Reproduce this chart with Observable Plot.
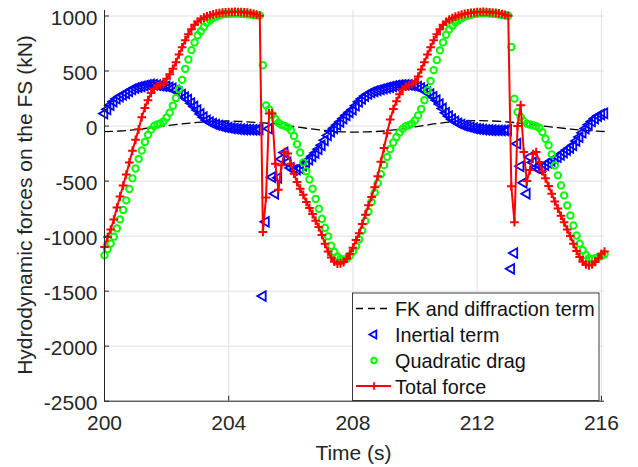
<!DOCTYPE html>
<html><head><meta charset="utf-8">
<script src="https://cdn.jsdelivr.net/npm/d3@7"></script>
<script src="https://cdn.jsdelivr.net/npm/@observablehq/plot@0.6"></script>
<style>body{margin:0;background:#fff;} svg{display:block}</style>
</head><body><div id="chart"></div>
<script>
const time = [
200.0,200.1,200.2,200.3,200.4,200.5,200.6,200.7,200.8,200.9,
201.0,201.1,201.2,201.3,201.4,201.5,201.6,201.7,201.8,201.9,
202.0,202.1,202.2,202.3,202.4,202.5,202.6,202.7,202.8,202.9,
203.0,203.1,203.2,203.3,203.4,203.5,203.6,203.7,203.8,203.9,
204.0,204.1,204.2,204.3,204.4,204.5,204.6,204.7,204.8,204.9,
205.0,205.1,205.2,205.3,205.4,205.5,205.6,205.7,205.8,205.9,
206.0,206.1,206.2,206.3,206.4,206.5,206.6,206.7,206.8,206.9,
207.0,207.1,207.2,207.3,207.4,207.5,207.6,207.7,207.8,207.9,
208.0,208.1,208.2,208.3,208.4,208.5,208.6,208.7,208.8,208.9,
209.0,209.1,209.2,209.3,209.4,209.5,209.6,209.7,209.8,209.9,
210.0,210.1,210.2,210.3,210.4,210.5,210.6,210.7,210.8,210.9,
211.0,211.1,211.2,211.3,211.4,211.5,211.6,211.7,211.8,211.9,
212.0,212.1,212.2,212.3,212.4,212.5,212.6,212.7,212.8,212.9,
213.0,213.1,213.2,213.3,213.4,213.5,213.6,213.7,213.8,213.9,
214.0,214.1,214.2,214.3,214.4,214.5,214.6,214.7,214.8,214.9,
215.0,215.1,215.2,215.3,215.4,215.5,215.6,215.7,215.8,215.9,
216.0,216.1];

const inertial = [
113,152,190,222,249,268,283,298,316,333,
345,353,360,367,374,378,376,372,368,364,
360,352,343,325,305,285,262,240,208,178,
145,110,80,52,35,22,12,4,-4,-10,
-15,-20,-24,-27,-29,-31,-32,-33,-34,-34,
-30,-1545,-870,-24,-464,-615,-470,-300,-240,-330,
-380,-400,-395,-385,-360,-330,-305,-275,-245,-210,
-175,-130,-85,-50,-20,10,38,68,97,125,
150,185,220,248,272,292,306,316,325,333,
340,348,355,362,368,372,374,375,374,370,
365,358,345,328,308,290,265,235,200,160,
120,90,62,42,25,13,3,-5,-12,-20,
-25,-28,-32,-34,-36,-38,-39,-40,-40,-40,
-38,-1297,-1154,-160,-366,-515,-615,-282,-330,-380,
-390,-375,-355,-335,-315,-298,-282,-262,-240,-218,
-198,-175,-135,-100,-60,-22,12,42,68,90,
105,115];

const drag = [
-1175,-1118,-1068,-1005,-930,-848,-762,-675,-572,-475,
-385,-298,-222,-145,-80,-32,0,14,24,42,
78,122,185,255,335,420,520,605,690,760,
825,862,900,938,962,982,996,1006,1013,1018,
1021,1023,1023,1022,1020,1018,1015,1013,1010,1007,
1004,552,188,150,100,65,30,12,2,-12,
-38,-90,-165,-240,-330,-410,-485,-570,-662,-752,
-842,-925,-1002,-1088,-1145,-1185,-1208,-1215,-1206,-1178,
-1140,-1092,-1030,-950,-862,-778,-690,-605,-520,-438,
-355,-280,-210,-150,-100,-58,-25,-2,8,22,
52,97,155,234,325,410,508,600,688,760,
830,878,912,940,962,980,995,1005,1012,1018,
1022,1024,1025,1025,1023,1020,1017,1013,1010,1007,
1003,718,249,127,82,45,22,14,6,-2,
-15,-55,-115,-175,-257,-357,-448,-539,-630,-721,
-812,-903,-994,-1068,-1128,-1172,-1200,-1210,-1200,-1190,
-1182,-1165];

const total = [
-1100,-1009,-940,-850,-740,-640,-540,-440,-330,-225,
-125,-30,80,165,235,300,340,362,375,385,
430,470,520,580,650,715,780,835,880,920,
950,970,985,997,1007,1015,1021,1026,1030,1033,
1035,1036,1037,1036,1035,1033,1030,1026,1020,1012,
1003,-963,-650,115,115,-342,-578,-357,-236,-250,
-342,-433,-509,-569,-625,-690,-745,-800,-860,-918,
-990,-1070,-1140,-1195,-1232,-1250,-1248,-1236,-1205,-1160,
-1105,-1035,-975,-890,-805,-720,-645,-555,-455,-325,
-200,-65,60,155,225,290,335,358,370,382,
400,450,515,580,650,715,780,835,880,920,
948,968,982,995,1005,1013,1020,1025,1029,1032,
1035,1036,1037,1036,1034,1032,1028,1024,1018,1010,
1002,-548,-873,0,190,-236,-500,-400,-255,-236,
-327,-410,-475,-545,-615,-685,-750,-815,-875,-940,
-1000,-1070,-1135,-1190,-1232,-1258,-1266,-1258,-1235,-1200,
-1160,-1140];

const fkTime = [200.0,200.5,201.0,201.5,202.0,202.5,203.0,203.5,204.0,204.5,205.0,205.5,206.0,206.5,207.0,207.5,
208.0,208.5,209.0,209.5,210.0,210.5,211.0,211.5,212.0,212.5,213.0,213.5,214.0,214.5,215.0,215.5,216.0,216.1];
const fkForce = [-50,-45,-33,-15,4,20,33,42,46,40,30,20,0,-20,-38,-50,
-55,-52,-45,-27,-8,15,33,45,50,46,37,22,5,-12,-27,-40,-48,-50];

const xTicks = [200,204,208,212,216];
const yTicks = [-2500,-2000,-1500,-1000,-500,0,500,1000];
const legendLabels = ["FK and diffraction term","Inertial term","Quadratic drag","Total force"];
const xLabel = "Time (s)";
const yLabel = "Hydrodynamic forces on the FS (kN)";

const rows = time.map((t,i)=>({t, inertial: inertial[i], drag: drag[i], total: total[i]}));
const fk = fkTime.map((t,i)=>({t, v: fkForce[i]}));

const axisColor = "#262626";
const gridColor = "#e0e0e0";
const font = "'Liberation Sans', Arial, Helvetica, sans-serif";
const blue = "#0000ff", green = "#00ff00", red = "#ff0000";
const rTri = 3.6, rCirc = 3.2, rPlus = 2.9;

const chart = Plot.plot({
  width: 638, height: 467,
  marginLeft: 104, marginRight: 34, marginTop: 10, marginBottom: 66.3,
  style: {fontFamily: font, fontSize: "21px", color: axisColor, background: "#fff", overflow: "visible"},
  x: {domain: [200, 216.1]},
  y: {domain: [-2500, 1050]},
  marks: [
    Plot.gridX(xTicks, {stroke: gridColor, strokeOpacity: 1}),
    Plot.gridY(yTicks, {stroke: gridColor, strokeOpacity: 1}),
    Plot.line(fk, {x: "t", y: "v", stroke: "#000", strokeWidth: 1.3, strokeDasharray: "8,5", curve: "natural"}),
    Plot.dot(rows, {x: "t", y: "inertial", symbol: "triangle", rotate: -90, r: rTri, stroke: blue, strokeWidth: 1.8, fill: "none"}),
    Plot.dot(rows, {x: "t", y: "drag", symbol: "circle", r: rCirc, stroke: green, strokeWidth: 2, fill: "none"}),
    Plot.line(rows, {x: "t", y: "total", stroke: red, strokeWidth: 2}),
    Plot.dot(rows, {x: "t", y: "total", symbol: "plus", r: rPlus, stroke: red, strokeWidth: 2}),
    Plot.ruleX([200], {stroke: axisColor, strokeWidth: 1}),
    Plot.ruleY([-2500], {stroke: axisColor, strokeWidth: 1}),
    Plot.ruleX(xTicks, {x: d => d, y1: -2500, y2: -2455, stroke: axisColor}),
    Plot.ruleY(yTicks, {y: d => d, x1: 200, x2: 200.16, stroke: axisColor}),
    Plot.axisX({ticks: xTicks, tickSize: 0, tickPadding: 14, label: null, tickFormat: d => String(d)}),
    Plot.axisY({ticks: yTicks, tickSize: 0, tickPadding: 7, label: null, tickFormat: d => String(d), dy: 2.5})
  ]
});
document.getElementById("chart").appendChild(chart);

const svg = d3.select(chart);
svg.append("text").attr("x", 353.5).attr("y", 460).attr("text-anchor", "middle")
  .attr("font-family", font).attr("font-size", 21).attr("fill", axisColor).text(xLabel);
svg.append("text").attr("transform", "translate(32,205) rotate(-90)").attr("text-anchor", "middle")
  .attr("font-family", font).attr("font-size", 21).attr("fill", axisColor).text(yLabel);

const lg = svg.append("g").attr("font-family", font).attr("font-size", 19.8).attr("text-anchor", "start");
lg.append("rect").attr("x", 352.5).attr("y", 293).attr("width", 246.5).attr("height", 107.5)
  .attr("fill", "#fff").attr("stroke", axisColor).attr("stroke-width", 0.9);
const baselines = [316, 342, 368, 393.5];
legendLabels.forEach((lab, i) => {
  const cy = baselines[i] - 7.5;
  if (i === 0) {
    lg.append("line").attr("x1", 356).attr("x2", 391).attr("y1", cy).attr("y2", cy)
      .attr("stroke", "#000").attr("stroke-width", 1.3).attr("stroke-dasharray", "7,5");
  } else if (i === 1) {
    lg.append("path").attr("d", d3.symbol(d3.symbolTriangle, Math.PI * 3 * 3)())
      .attr("transform", `translate(374,${cy}) rotate(-90)`).attr("fill", "none").attr("stroke", blue).attr("stroke-width", 1.8);
  } else if (i === 2) {
    lg.append("circle").attr("cx", 374).attr("cy", cy).attr("r", 2.7)
      .attr("fill", "none").attr("stroke", green).attr("stroke-width", 2);
  } else {
    lg.append("line").attr("x1", 356).attr("x2", 391).attr("y1", cy).attr("y2", cy)
      .attr("stroke", red).attr("stroke-width", 2);
    lg.append("path").attr("d", d3.symbol(d3.symbolPlus, Math.PI * 2.6 * 2.6)())
      .attr("transform", `translate(374,${cy})`).attr("fill", "none").attr("stroke", red).attr("stroke-width", 1.8);
  }
  lg.append("text").attr("x", 395).attr("y", baselines[i]).attr("text-anchor", "start").attr("fill", "#111").text(lab);
});
</script></body></html>
